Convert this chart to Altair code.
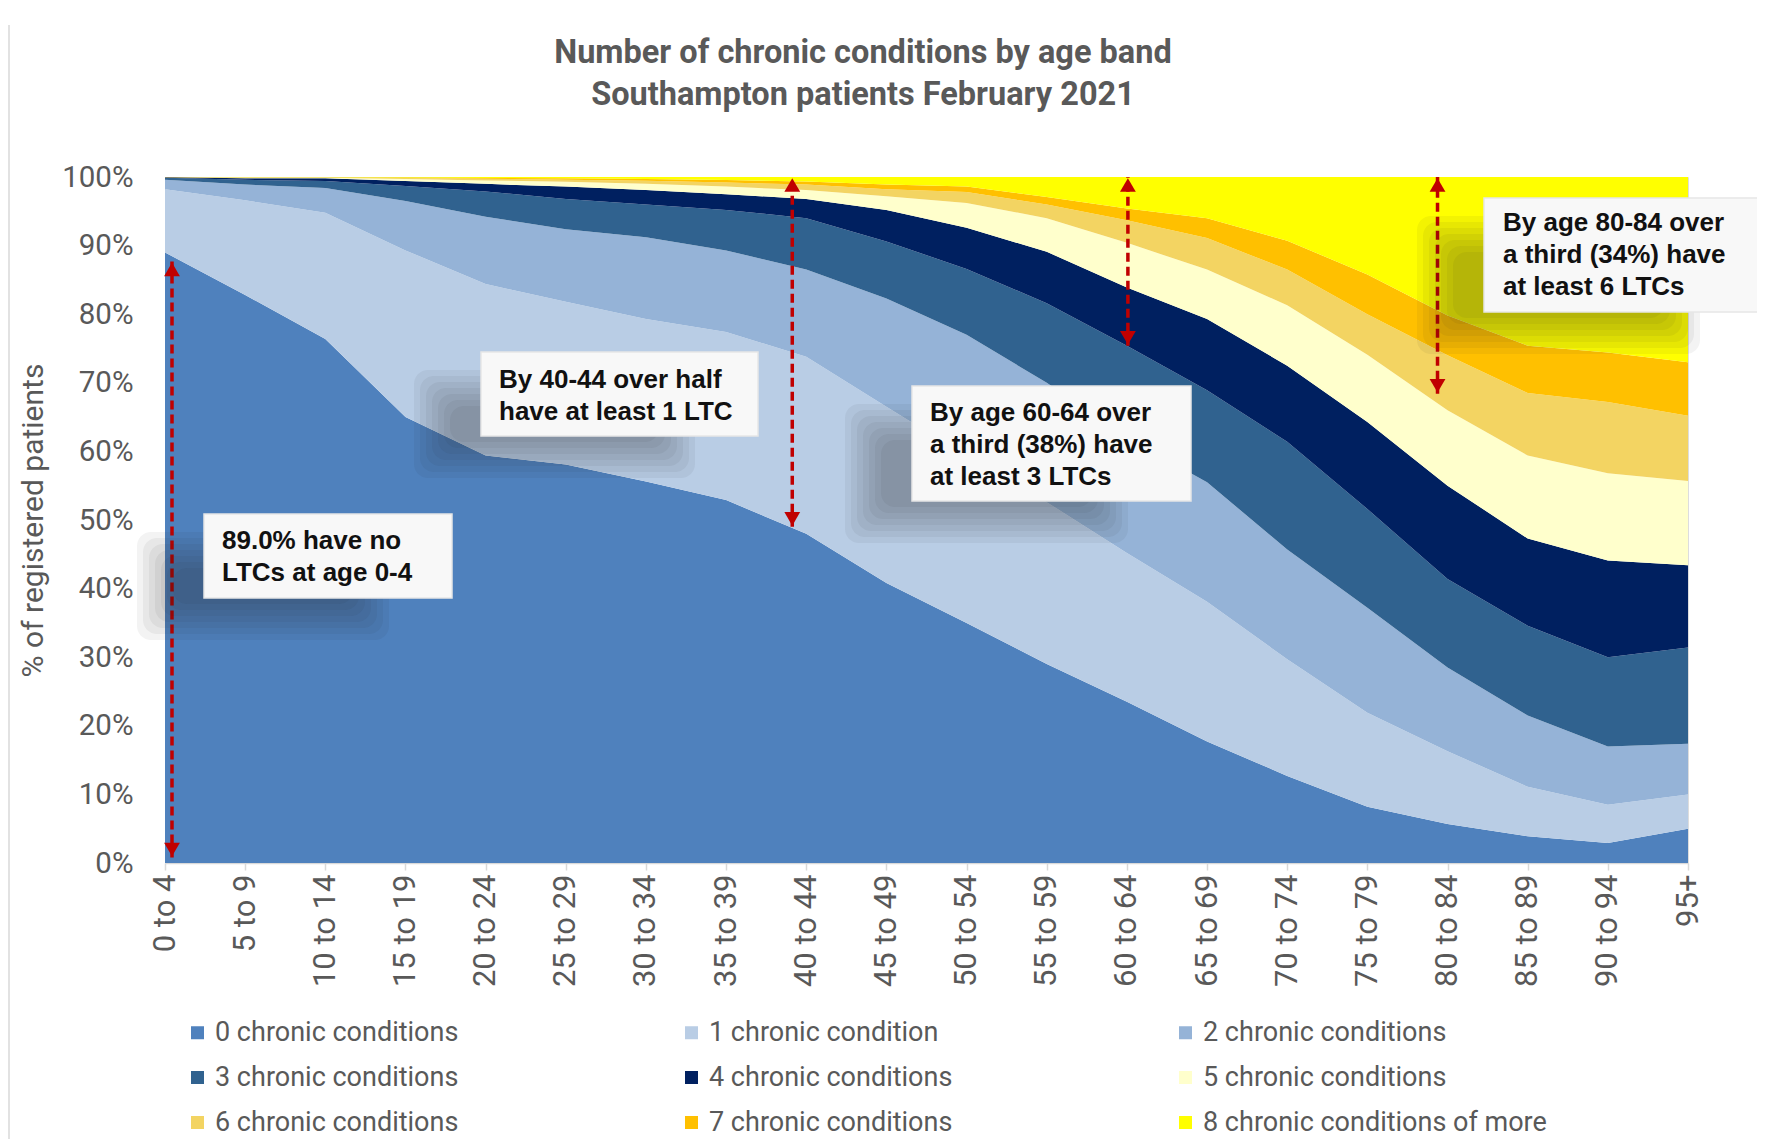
import altair as alt
import pandas as pd

# ---------------- data ----------------
bands = ["0 to 4", "5 to 9", "10 to 14", "15 to 19", "20 to 24", "25 to 29", "30 to 34",
         "35 to 39", "40 to 44", "45 to 49", "50 to 54", "55 to 59", "60 to 64", "65 to 69",
         "70 to 74", "75 to 79", "80 to 84", "85 to 89", "90 to 94", "95+"]

series_names = ["0 chronic conditions", "1 chronic condition", "2 chronic conditions",
                "3 chronic conditions", "4 chronic conditions", "5 chronic conditions",
                "6 chronic conditions", "7 chronic conditions", "8 chronic conditions of more"]

pct_0 = [89.0, 82.8, 76.4, 65.0, 59.4, 58.1, 55.6, 52.9, 48.0, 40.8, 35.0, 29.0, 23.5, 17.7, 12.7, 8.2, 5.7, 3.9, 2.9, 5.0]
pct_1 = [9.2, 13.8, 18.4, 24.3, 25.0, 23.7, 23.7, 24.5, 25.8, 25.7, 24.3, 23.6, 21.7, 20.4, 17.0, 13.7, 10.6, 7.2, 5.6, 5.0]
pct_2 = [1.4, 2.3, 3.6, 7.2, 9.8, 10.6, 11.9, 11.9, 12.7, 15.8, 17.7, 17.4, 16.8, 17.4, 16.0, 15.3, 12.2, 10.4, 8.5, 7.4]
pct_3 = [0.3, 0.7, 1.0, 2.2, 3.7, 4.4, 4.8, 5.9, 7.5, 8.3, 9.6, 11.6, 13.4, 13.4, 15.7, 14.4, 12.9, 13.1, 13.0, 14.0]
pct_4 = [0.05, 0.2, 0.4, 0.7, 1.1, 1.8, 2.1, 2.3, 2.8, 4.6, 6.0, 7.5, 8.5, 10.4, 11.1, 12.7, 13.6, 12.7, 14.1, 12.0]
pct_5 = [0.02, 0.1, 0.1, 0.3, 0.5, 0.7, 0.9, 1.1, 1.3, 2.0, 3.6, 4.9, 6.5, 7.2, 8.8, 9.8, 11.0, 12.1, 12.7, 12.3]
pct_6 = [0.01, 0.05, 0.05, 0.15, 0.25, 0.3, 0.45, 0.6, 0.8, 1.0, 1.6, 2.0, 3.3, 4.6, 5.2, 5.9, 8.0, 9.1, 10.4, 9.5]
pct_7 = [0.01, 0.02, 0.02, 0.07, 0.12, 0.2, 0.25, 0.35, 0.45, 0.7, 0.8, 1.1, 1.7, 2.9, 4.2, 5.8, 5.8, 6.9, 7.2, 7.8]
pct_8 = [0.01, 0.03, 0.03, 0.08, 0.13, 0.2, 0.3, 0.45, 0.65, 1.1, 1.4, 2.9, 4.6, 6.0, 9.3, 14.2, 20.2, 24.6, 25.6, 27.0]

# annotation arrows: age band, lower and upper end (%)
arrow_bands = ["0 to 4", "40 to 44", "60 to 64", "80 to 84"]
arrow_lo = [0.8, 49.0, 75.4, 68.4]
arrow_hi = [87.7, 100.0, 100.0, 100.0]

title_lines = ["Number of chronic conditions by age band", "Southampton patients February 2021"]

annotation_texts = [
    ["89.0% have no", "LTCs at age 0-4"],
    ["By 40-44 over half", "have at least 1 LTC"],
    ["By age 60-64 over", "a third (38%) have", "at least 3 LTCs"],
    ["By age 80-84 over", "a third (34%) have", "at least 6 LTCs"],
]

# ---------------- styling / layout ----------------
colors = ["#4F81BD", "#B9CDE5", "#95B3D7", "#30628F", "#002060",
          "#FFFFCC", "#F3D462", "#FFC000", "#FFFF00"]
FONT = "Roboto, Liberation Sans, sans-serif"
BOLD = "Liberation Sans, Arial, sans-serif"
GREY = "#595959"
RED = "#C00000"
W, H = 1523, 686

arrow_dx = [7, -14, 1, -10]
# box geometry in plot pixels: x1, x2, y1, y2, text-x, first-line-y
boxes = [
    (39, 287, 337, 421, 57, 364),
    (316, 593, 175, 259, 334, 203),
    (747, 1026, 209, 324, 765, 236),
    (1319, 1598, 21, 135, 1338, 46),
]
title_pos = [(698, -124), (698, -82)]

series_of = [pct_0, pct_1, pct_2, pct_3, pct_4, pct_5, pct_6, pct_7, pct_8]
rows = []
for k, (name, vals) in enumerate(zip(series_names, series_of)):
    for b, v in zip(bands, vals):
        rows.append({"band": b, "series": name, "k": k, "value": v})
df = pd.DataFrame(rows)

area = alt.Chart(df).mark_area(interpolate="linear", opacity=1).encode(
    x=alt.X("band:N", sort=bands, scale=alt.Scale(type="point", padding=0),
            axis=alt.Axis(title=None, labelAngle=-90, labelFont=FONT, labelFontSize=31,
                          labelColor=GREY, labelPadding=4, domainColor="#D9D9D9",
                          domainWidth=1.5, tickColor="#D9D9D9", tickSize=7, tickWidth=1.5,
                          grid=False, labelOverlap=False)),
    y=alt.Y("value:Q", stack="zero", scale=alt.Scale(domain=[0, 100], nice=False),
            axis=alt.Axis(title="% of registered patients", values=list(range(0, 101, 10)),
                          labelExpr="datum.value + '%'", labelFont=FONT, labelFontSize=29.5,
                          labelColor=GREY, labelPadding=32, ticks=False, domain=False,
                          grid=False, titleFont=FONT, titleFontSize=30,
                          titleFontWeight="normal", titleColor=GREY, titlePadding=13)),
    color=alt.Color("series:N", scale=alt.Scale(domain=series_names, range=colors),
                    legend=alt.Legend(title=None, orient="none", legendX=19, legendY=842,
                                      direction="horizontal", columns=3, columnPadding=219,
                                      rowPadding=17, symbolType="square", symbolSize=169,
                                      symbolStrokeWidth=0, labelFont=FONT, labelFontSize=27,
                                      labelColor=GREY, labelOffset=4, labelLimit=600)),
    order=alt.Order("k:Q", sort="ascending"),
)

layers = [area]

# left chart border
border_df = pd.DataFrame({"x": [-156], "y1": [-152], "y2": [980]})
layers.append(alt.Chart(border_df).mark_rule(color="#D9D9D9", strokeWidth=1.5).encode(
    x=alt.X("x:Q", scale=None), y=alt.Y("y1:Q", scale=None), y2="y2:Q"))

# title
tdf = pd.DataFrame({"t": title_lines, "x": [p[0] for p in title_pos], "y": [p[1] for p in title_pos]})
layers.append(alt.Chart(tdf).mark_text(align="center", baseline="middle", font=FONT,
                                       fontWeight="bold", fontSize=32.5, color=GREY).encode(
    x=alt.X("x:Q", scale=None), y=alt.Y("y:Q", scale=None), text="t"))

# arrows
for b, lo, hi, dx in zip(arrow_bands, arrow_lo, arrow_hi, arrow_dx):
    adf = pd.DataFrame({"band": [b], "lo": [lo], "hi": [hi]})
    base = alt.Chart(adf)
    layers.append(base.mark_rule(color=RED, strokeWidth=3.5, strokeDash=[9, 5], xOffset=dx).encode(
        x=alt.X("band:N", sort=bands), y=alt.Y("lo:Q"), y2="hi:Q"))
    layers.append(base.mark_point(shape="triangle-up", filled=True, size=250, color=RED,
                                  opacity=1, xOffset=dx, yOffset=8).encode(
        x=alt.X("band:N", sort=bands), y=alt.Y("hi:Q")))
    layers.append(base.mark_point(shape="triangle-down", filled=True, size=250, color=RED,
                                  opacity=1, xOffset=dx, yOffset=-8).encode(
        x=alt.X("band:N", sort=bands), y=alt.Y("lo:Q")))

# annotation boxes with soft shadows
shadow_rows, box_rows, text_rows = [], [], []
for (x1, x2, y1, y2, tx, ty), txt in zip(boxes, annotation_texts):
    for inset in (-12, -6, 0, 6, 12, 18, 24):
        shadow_rows.append({"x1": x1 - 55 + inset, "x2": x2 - 75 - inset,
                            "y1": y1 + 30 + inset, "y2": y2 + 30 - inset})
    box_rows.append({"x1": x1, "x2": x2, "y1": y1, "y2": y2})
    text_rows.append({"x": tx, "y": ty, "t": txt})

layers.append(alt.Chart(pd.DataFrame(shadow_rows)).mark_rect(color="#262626", opacity=0.055,
                                                             cornerRadius=14).encode(
    x=alt.X("x1:Q", scale=None), x2="x2:Q", y=alt.Y("y1:Q", scale=None), y2="y2:Q"))
layers.append(alt.Chart(pd.DataFrame(box_rows)).mark_rect(fill="#F8F8F8", stroke="#E6E6E6",
                                                          strokeWidth=1.5).encode(
    x=alt.X("x1:Q", scale=None), x2="x2:Q", y=alt.Y("y1:Q", scale=None), y2="y2:Q"))
layers.append(alt.Chart(pd.DataFrame(text_rows)).mark_text(
    align="left", baseline="middle", font=BOLD, fontWeight="bold", fontSize=26,
    lineHeight=32, color="#111111").encode(
    x=alt.X("x:Q", scale=None), y=alt.Y("y:Q", scale=None), text="t"))

chart = alt.layer(*layers).properties(
    width=W, height=H,
    autosize=alt.AutoSizeParams(type="none"),
    padding={"left": 157, "top": 169, "right": 69, "bottom": 276},
).configure_view(stroke=None).configure(background="white")

chart.save("out.html", embed_options={"renderer": "svg", "actions": False})
